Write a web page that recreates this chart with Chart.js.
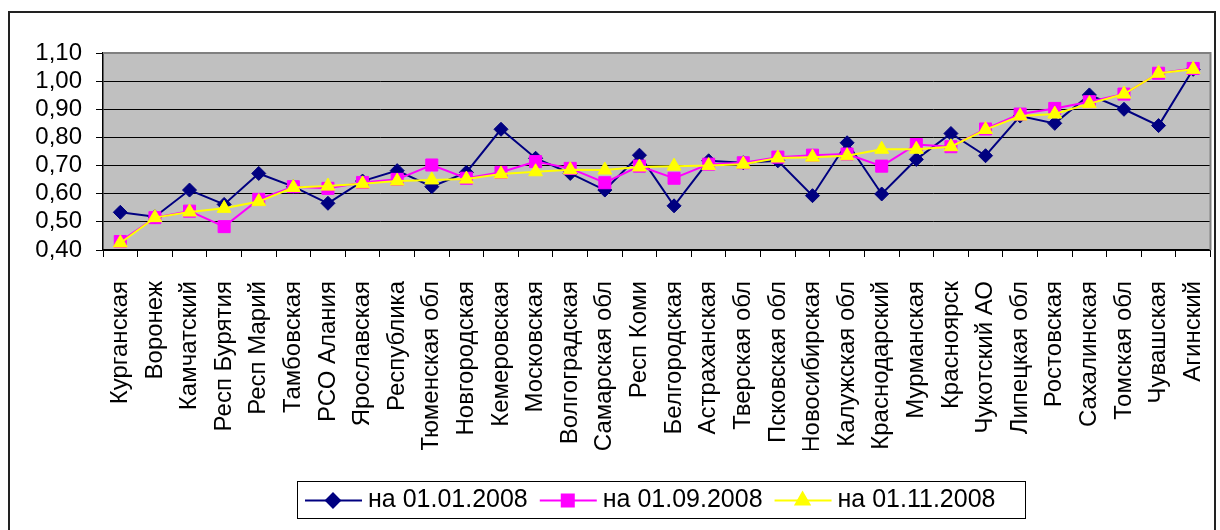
<!DOCTYPE html>
<html>
<head>
<meta charset="utf-8">
<script src="https://cdn.jsdelivr.net/npm/chart.js@4"></script>
<style>
  html, body { margin: 0; padding: 0; background: #fff; }
  #wrap { width: 1220px; height: 530px; }
</style>
</head>
<body>
<div id="wrap"><canvas id="chart" width="1220" height="530"></canvas></div>
<script>
// Regions (x axis)
const regions = ["Курганская", "Воронеж", "Камчатский", "Респ Бурятия", "Респ Марий", "Тамбовская",
    "РСО Алания", "Ярославская", "Республика", "Тюменская обл", "Новгородская", "Кемеровская",
    "Московская", "Волгоградская", "Самарская обл", "Респ Коми", "Белгородская", "Астраханская",
    "Тверская обл", "Псковская обл", "Новосибирская", "Калужская обл", "Краснодарский", "Мурманская",
    "Красноярск", "Чукотский АО", "Липецкая обл", "Ростовская", "Сахалинская", "Томская обл",
    "Чувашская", "Агинский"];

const seriesNames = ["на 01.01.2008", "на 01.09.2008", "на 01.11.2008"];

const jan2008 = [0.534, 0.518, 0.613, 0.562, 0.672, 0.625, 0.566, 0.645, 0.682, 0.625, 0.676, 0.829,
    0.726, 0.672, 0.613, 0.737, 0.557, 0.717, 0.710, 0.717, 0.593, 0.781, 0.599, 0.722,
    0.814, 0.735, 0.876, 0.850, 0.951, 0.900, 0.842, 1.042];
const sep2008 = [0.430, 0.515, 0.538, 0.483, 0.580, 0.625, 0.619, 0.640, 0.651, 0.702, 0.655, 0.676,
    0.714, 0.690, 0.639, 0.698, 0.655, 0.705, 0.710, 0.730, 0.737, 0.741, 0.698, 0.775,
    0.767, 0.830, 0.883, 0.903, 0.927, 0.954, 1.028, 1.045];
const nov2008 = [0.425, 0.515, 0.535, 0.548, 0.572, 0.622, 0.627, 0.635, 0.645, 0.649, 0.652, 0.670,
    0.678, 0.685, 0.684, 0.695, 0.698, 0.700, 0.705, 0.727, 0.730, 0.735, 0.758, 0.758,
    0.767, 0.828, 0.876, 0.883, 0.920, 0.954, 1.028, 1.042];

const FONT = "'Liberation Sans', Arial, sans-serif";

// grey plot background + outer frame + plot frame
const framePlugin = {
    id: "frame",
    beforeDraw(chart) {
        const ctx = chart.ctx, a = chart.chartArea;
        ctx.save();
        ctx.fillStyle = "#fff";
        ctx.fillRect(0, 0, chart.width, chart.height);
        ctx.strokeStyle = "#222";
        ctx.lineWidth = 2;
        ctx.strokeRect(9, 12, 1206, 540);
        ctx.fillStyle = "#c0c0c0";
        ctx.fillRect(a.left, a.top, a.right - a.left, a.bottom - a.top);
        ctx.restore();
    },
    afterDatasetsDraw(chart) {
        const ctx = chart.ctx, a = chart.chartArea;
        ctx.save();
        ctx.strokeStyle = "#808080";
        ctx.lineWidth = 2;
        ctx.beginPath();
        ctx.moveTo(a.left, a.top);
        ctx.lineTo(a.right, a.top);
        ctx.lineTo(a.right, a.bottom);
        ctx.stroke();
        ctx.restore();
    }
};

// legend in a box, line + marker like the original
const boxLegend = {
    id: "boxLegend",
    afterDraw(chart) {
        const ctx = chart.ctx;
        const box = { left: 297, top: 481, right: 1025, bottom: 518 };
        ctx.save();
        ctx.strokeStyle = "#000";
        ctx.lineWidth = 1;
        ctx.strokeRect(box.left + 0.5, box.top + 0.5, box.right - box.left, box.bottom - box.top);
        ctx.font = "25px " + FONT;
        ctx.textBaseline = "middle";
        const cy = (box.top + box.bottom) / 2 + 1;
        let x = box.left + 8;
        chart.data.datasets.forEach(ds => {
            ctx.strokeStyle = ds.borderColor;
            ctx.lineWidth = 2;
            ctx.beginPath();
            ctx.moveTo(x, cy);
            ctx.lineTo(x + 57, cy);
            ctx.stroke();
            ctx.fillStyle = ds.pointBackgroundColor;
            ctx.strokeStyle = ds.pointBorderColor;
            Chart.helpers.drawPoint(ctx, {
                pointStyle: ds.pointStyle, radius: ds.pointRadius, rotation: 0, borderWidth: 1
            }, x + 28, cy);
            x += 63;
            ctx.fillStyle = "#000";
            ctx.fillText(ds.label, x, cy);
            x += ctx.measureText(ds.label).width + 12;
        });
        ctx.restore();
    }
};

function makeSet(label, data, color, style, radius, order) {
    return {
        label: label,
        data: data,
        borderColor: color,
        backgroundColor: color,
        pointBackgroundColor: color,
        pointBorderColor: color,
        borderWidth: 2,
        pointStyle: style,
        pointRadius: radius,
        pointHoverRadius: radius,
        pointBorderWidth: 1,
        tension: 0,
        order: order
    };
}

new Chart(document.getElementById("chart"), {
    type: "line",
    data: {
        labels: regions,
        datasets: [
            makeSet(seriesNames[0], jan2008, "#000080", "rectRot", 7, 3),
            makeSet(seriesNames[1], sep2008, "#ff00ff", "rect", 8.5, 2),
            makeSet(seriesNames[2], nov2008, "#ffff00", "triangle", 8, 1)
        ]
    },
    options: {
        responsive: false,
        animation: false,
        layout: { padding: { left: 0, top: 53, right: 5, bottom: 80 } },
        plugins: {
            legend: { display: false },
            tooltip: { enabled: false }
        },
        scales: {
            x: {
                offset: true,
                grid: {
                    offset: true,
                    drawOnChartArea: false,
                    drawTicks: true,
                    tickLength: 7,
                    color: "#000",
                    lineWidth: 1
                },
                border: { color: "#000", width: 1.5 },
                ticks: {
                    autoSkip: false,
                    maxRotation: 90,
                    minRotation: 90,
                    padding: 24,
                    color: "#000",
                    font: { family: FONT, size: 24 }
                },
                afterFit(scale) {
                    scale.height = 200;
                    // rotated labels fit inside the offset, no extra side padding
                    scale.paddingLeft = 0;
                    scale.paddingRight = 0;
                }
            },
            y: {
                min: 0.4,
                max: 1.1,
                grid: {
                    color: ctx => (ctx.tick && ctx.tick.value > 1.05) ? "#808080" : "#000",
                    lineWidth: 1,
                    tickLength: 7,
                    tickColor: "#000"
                },
                border: { color: "#000", width: 1.5 },
                ticks: {
                    stepSize: 0.1,
                    autoSkip: false,
                    padding: 14,
                    color: "#000",
                    font: { family: FONT, size: 24, lineHeight: 1 },
                    callback: v => v.toFixed(2).replace(".", ",")
                },
                afterFit(scale) {
                    scale.width = 103;
                    scale.paddingTop = 0;
                    scale.paddingBottom = 0;
                }
            }
        }
    },
    plugins: [framePlugin, boxLegend]
});
</script>
</body>
</html>
